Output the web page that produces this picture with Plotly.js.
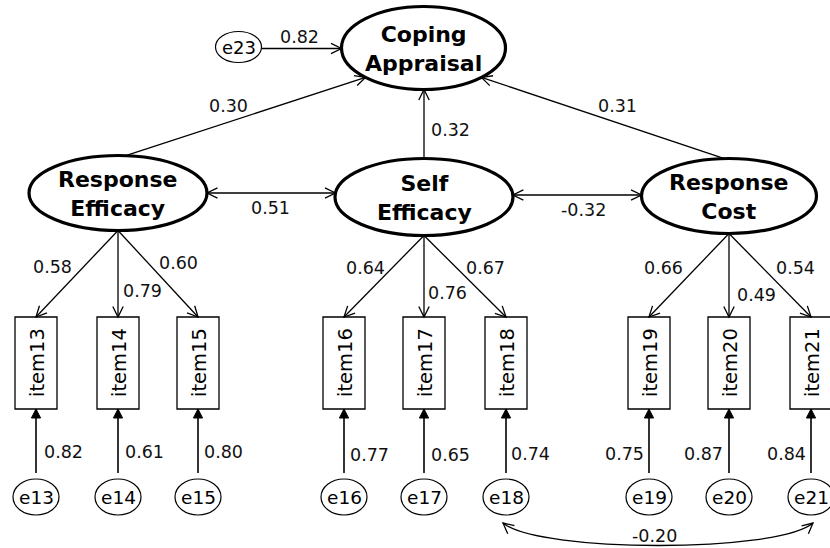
<!DOCTYPE html>
<html>
<head>
<meta charset="utf-8">
<script src="https://cdn.plot.ly/plotly-3.0.1.min.js"></script>
<style>html,body{margin:0;padding:0;background:#fff;}#chart{width:830px;height:548px;}</style>
</head>
<body>
<div id="chart"></div>
<script>
// ---- data ----
const latentNames = ['Coping<br>Appraisal', 'Response<br>Efficacy', 'Self<br>Efficacy', 'Response<br>Cost'];
const itemNames = ['item13', 'item14', 'item15', 'item16', 'item17', 'item18', 'item19', 'item20', 'item21'];
const errorNames = ['e13', 'e14', 'e15', 'e16', 'e17', 'e18', 'e19', 'e20', 'e21'];
const itemFactor = [1, 1, 1, 2, 2, 2, 3, 3, 3];           // index into latentNames
const loadings = [0.58, 0.79, 0.60, 0.64, 0.76, 0.67, 0.66, 0.49, 0.54];
const errorPaths = [0.82, 0.61, 0.80, 0.77, 0.65, 0.74, 0.75, 0.87, 0.84];
const structFrom = [1, 2, 3];                              // -> Coping Appraisal
const structPaths = [0.30, 0.32, 0.31];
const covPairs = [[1, 2], [2, 3]];
const covValues = [0.51, -0.32];
const disturbanceName = 'e23';
const disturbancePath = 0.82;
const errorCovPair = [5, 8];
const errorCovValue = -0.20;

// ---- layout geometry (pixel-like data space) ----
const latentGeo = [
  {cx: 423.5, cy: 48, rx: 82, ry: 41.5},
  {cx: 118, cy: 193, rx: 89, ry: 37.5},
  {cx: 424, cy: 197, rx: 89, ry: 38.5},
  {cx: 729, cy: 196, rx: 87.5, ry: 37.5}
];
const itemX = [36, 118, 198, 344, 424, 506, 649, 729, 811];
const itemTop = 317, itemBot = 409, itemHalfW = 21;
const errY = 497, errRx = 23, errRy = 18;
const e23Geo = {cx: 238.5, cy: 47, rx: 23, ry: 15.5};
const loadLabelPos = [[52,267],[142,291],[178,263],[365,268],[447,293],[485,268],[663,268],[756,295],[795,268]];
const errLabelPos = [[63,452],[144.5,452],[223,452],[369,455],[450,455],[530,454],[624,454],[703,454],[786,454]];
const structStartAng = [-85, -90, -93];
const structEndAng = [135, 90, 45];
const structLabelPos = [[228,106],[450,130],[617,106]];
const covY = [193, 195];
const covLabelPos = [[270,208],[583,210]];

const shapes = [];
const annotations = [];
const BLACK = '#000';
const numFont = {family: 'DejaVu Sans', size: 17.5, color: '#111'};

function ellPt(n, deg) {
  const a = deg * Math.PI / 180;
  return [n.cx + n.rx * Math.cos(a), n.cy + n.ry * Math.sin(a)];
}
function ellXAt(n, y, side) {
  const t = (y - n.cy) / n.ry;
  return n.cx + side * n.rx * Math.sqrt(Math.max(0, 1 - t * t));
}
function line(p, q, w) {
  shapes.push({type: 'path', xref: 'x', yref: 'y', path: `M${p[0]},${p[1]} L${q[0]},${q[1]}`,
    line: {color: BLACK, width: w || 1.3}});
}
function head(tip, from, filled) {
  let dx = tip[0] - from[0], dy = tip[1] - from[1];
  const L = Math.hypot(dx, dy); dx /= L; dy /= L;
  const len = filled ? 9 : 10.5, half = filled ? 4.6 : 5.2;
  const bx = tip[0] - dx * len, by = tip[1] - dy * len;
  const a = [bx - dy * half, by + dx * half], b = [bx + dy * half, by - dx * half];
  if (filled) {
    shapes.push({type: 'path', xref: 'x', yref: 'y', path: `M${tip[0]},${tip[1]} L${a[0]},${a[1]} L${b[0]},${b[1]} Z`,
      fillcolor: BLACK, line: {color: BLACK, width: 1}});
  } else {
    shapes.push({type: 'path', xref: 'x', yref: 'y', path: `M${a[0]},${a[1]} L${tip[0]},${tip[1]} L${b[0]},${b[1]}`,
      line: {color: BLACK, width: 1.3}});
  }
}
function ellipse(n, w) {
  shapes.push({type: 'circle', xref: 'x', yref: 'y', x0: n.cx - n.rx, x1: n.cx + n.rx, y0: n.cy - n.ry, y1: n.cy + n.ry,
    line: {color: BLACK, width: w}, fillcolor: 'rgba(255,255,255,0)'});
}
function label(text, pos, font, extra) {
  annotations.push(Object.assign({x: pos[0], y: pos[1], xref: 'x', yref: 'y', text: text, showarrow: false,
    xanchor: 'center', yanchor: 'middle', font: font}, extra || {}));
}
const fmt = v => v.toFixed(2);

// latent ellipses
latentNames.forEach((name, i) => {
  const g = latentGeo[i];
  ellipse(g, 3.2);
  label('<b>' + name + '</b>', [g.cx, g.cy + 1], {family: 'DejaVu Sans', size: 22, color: BLACK});
});

// structural paths
structFrom.forEach((f, k) => {
  const p = ellPt(latentGeo[f], structStartAng[k]);
  const q = ellPt(latentGeo[0], structEndAng[k]);
  if (k === 1) { p[0] = latentGeo[f].cx; q[0] = latentGeo[f].cx; }
  line(p, q); head(q, p, false);
  label(fmt(structPaths[k]), structLabelPos[k], numFont);
});

// disturbance e23
ellipse(e23Geo, 1.2);
label(disturbanceName, [e23Geo.cx, e23Geo.cy], {family: 'DejaVu Sans', size: 18, color: BLACK});
{
  const y = 48.5;
  const p = [ellXAt(e23Geo, y, 1), y], q = [ellXAt(latentGeo[0], y, -1), y];
  line(p, q); head(q, p, false);
  label(fmt(disturbancePath), [299, 37], numFont);
}

// covariances between latents
covPairs.forEach((pr, k) => {
  const y = covY[k];
  const p = [ellXAt(latentGeo[pr[0]], y, 1), y], q = [ellXAt(latentGeo[pr[1]], y, -1), y];
  line(p, q); head(q, p, false); head(p, q, false);
  label(fmt(covValues[k]), covLabelPos[k], numFont);
});

// items, errors, loadings
itemNames.forEach((name, i) => {
  const x = itemX[i];
  shapes.push({type: 'rect', xref: 'x', yref: 'y', x0: x - itemHalfW, x1: x + itemHalfW, y0: itemTop, y1: itemBot,
    line: {color: BLACK, width: 1.3}, fillcolor: 'rgba(255,255,255,0)'});
  label(name, [x + 1, (itemTop + itemBot) / 2], {family: 'DejaVu Sans', size: 19.5, color: BLACK}, {textangle: -90});

  // loading
  const g = latentGeo[itemFactor[i]];
  const p = [g.cx, g.cy + g.ry], q = [x, itemTop];
  line(p, q); head(q, p, false);
  label(fmt(loadings[i]), loadLabelPos[i], numFont);

  // error
  const eg = {cx: x, cy: errY, rx: errRx, ry: errRy};
  ellipse(eg, 1.2);
  label(errorNames[i], [x, errY], {family: 'DejaVu Sans', size: 18.5, color: BLACK});
  const ep = [x, errY - errRy - 6], eq = [x, itemBot];
  line(ep, eq, 1.6); head(eq, ep, true);
  label(fmt(errorPaths[i]), errLabelPos[i], numFont);
});

// error covariance curve e18 <-> e21
{
  const a = itemX[errorCovPair[0]], b = itemX[errorCovPair[1]];
  const y0 = errY + errRy + 8;
  const P0 = [a - 3, y0], P1 = [a + 33, 553], P2 = [b - 33, 553], P3 = [b + 2, y0];
  shapes.push({type: 'path', xref: 'x', yref: 'y',
    path: `M${P0[0]},${P0[1]} C${P1[0]},${P1[1]} ${P2[0]},${P2[1]} ${P3[0]},${P3[1]}`,
    line: {color: BLACK, width: 1.3}});
  head(P0, P1, false); head(P3, P2, false);
  label(fmt(errorCovValue), [654, 536], numFont);
}

const layout = {
  width: 830, height: 548,
  margin: {l: 0, r: 0, t: 0, b: 0},
  paper_bgcolor: '#fff', plot_bgcolor: '#fff',
  xaxis: {range: [0, 830], visible: false, fixedrange: true},
  yaxis: {range: [548, 0], visible: false, fixedrange: true},
  showlegend: false,
  shapes: shapes,
  annotations: annotations
};
const trace = {x: [0, 830], y: [0, 548], type: 'scatter', mode: 'markers',
  marker: {opacity: 0}, hoverinfo: 'skip', showlegend: false};
Plotly.newPlot('chart', [trace], layout, {staticPlot: true, displayModeBar: false});
</script>
</body>
</html>
